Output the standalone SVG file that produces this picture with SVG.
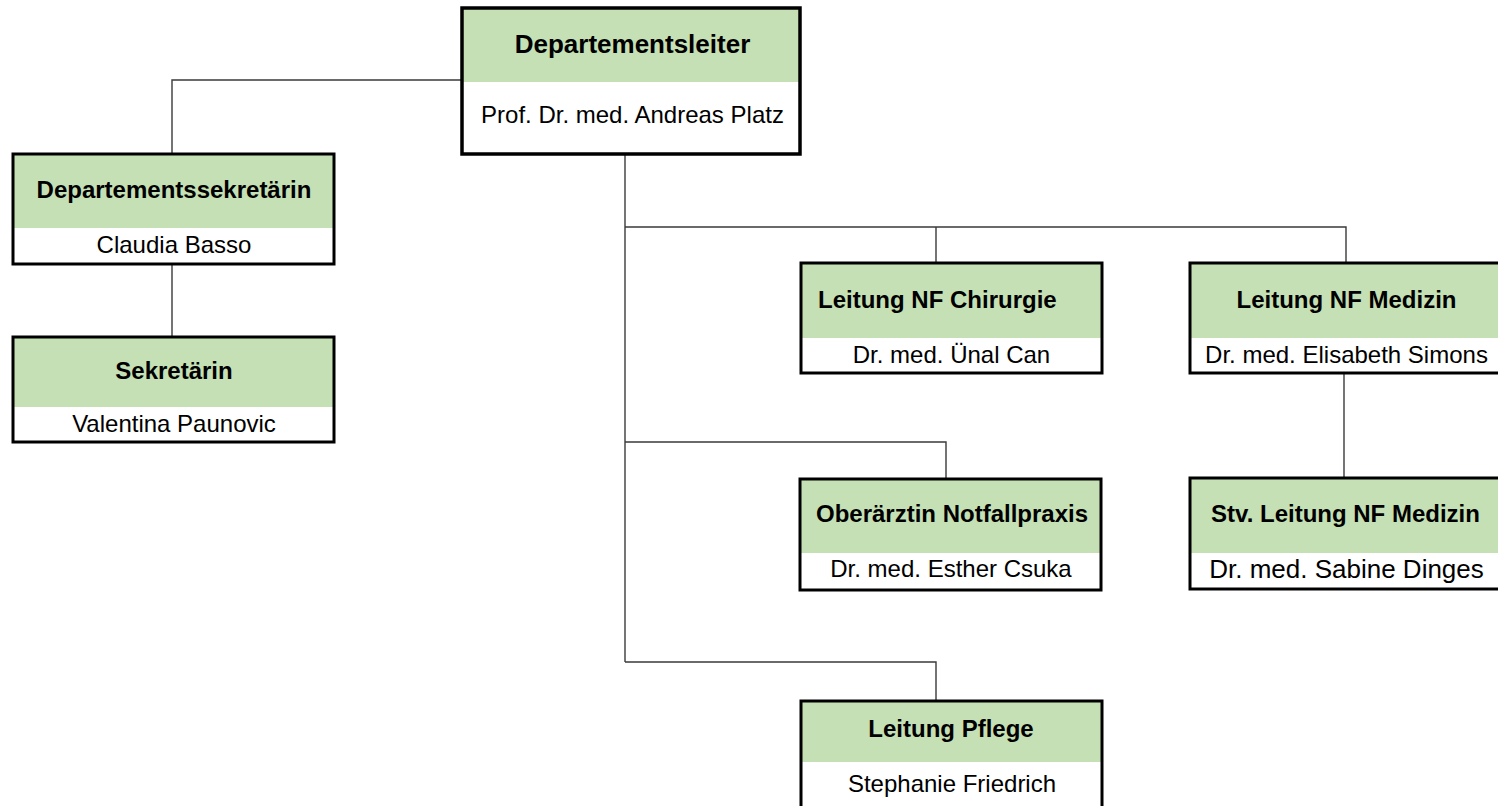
<svg xmlns="http://www.w3.org/2000/svg" width="1498" height="806" viewBox="0 0 1498 806">
<style>
.bg{fill:#ffffff}
.hd{fill:#c5e0b4}
.ol{fill:none;stroke:#000000;stroke-width:3}
.t{font-family:"Liberation Sans",Arial,sans-serif;font-size:24px;font-weight:bold;fill:#000;text-anchor:middle}
.n{font-family:"Liberation Sans",Arial,sans-serif;font-size:24px;fill:#000;text-anchor:middle}
.cn{fill:none;stroke:#3a3a3a;stroke-width:1.4}
</style>
<rect x="0" y="0" width="1498" height="806" fill="#ffffff"/>
<g id="connectors" class="cn">
<path d="M461,80 H172 V154"/>
<path d="M172,264 V337"/>
<path d="M625,154 V662"/>
<path d="M625,227 H1346 V263"/>
<path d="M936,227 V263"/>
<path d="M1344,373 V478"/>
<path d="M625,442 H946 V479"/>
<path d="M625,662 H936 V701"/>
</g>
<g id="node-departementsleiter">
<rect class="bg" x="462" y="8" width="338" height="146"/>
<rect class="hd" x="462" y="8" width="338" height="74"/>
<rect class="ol" x="462" y="8" width="338" height="146" style="stroke-width:3.5"/>
<text class="t" x="632.5" y="53" style="font-size:26px">Departementsleiter</text>
<text class="n" x="632.5" y="123">Prof. Dr. med. Andreas Platz</text>
</g>
<g id="node-departementssekretaerin">
<rect class="bg" x="13" y="154" width="321" height="110"/>
<rect class="hd" x="13" y="154" width="321" height="74"/>
<rect class="ol" x="13" y="154" width="321" height="110"/>
<text class="t" x="174" y="198">Departementssekretärin</text>
<text class="n" x="174" y="253">Claudia Basso</text>
</g>
<g id="node-sekretaerin">
<rect class="bg" x="13" y="337" width="321" height="105"/>
<rect class="hd" x="13" y="337" width="321" height="70"/>
<rect class="ol" x="13" y="337" width="321" height="105"/>
<text class="t" x="174" y="379">Sekretärin</text>
<text class="n" x="174" y="432">Valentina Paunovic</text>
</g>
<g id="node-leitung-nf-chirurgie">
<rect class="bg" x="801" y="263" width="301" height="110"/>
<rect class="hd" x="801" y="263" width="301" height="75"/>
<rect class="ol" x="801" y="263" width="301" height="110"/>
<text class="t" x="818" y="308" style="text-anchor:start">Leitung NF Chirurgie</text>
<text class="n" x="951.5" y="363">Dr. med. Ünal Can</text>
</g>
<g id="node-leitung-nf-medizin">
<rect class="bg" x="1190" y="263" width="312" height="110"/>
<rect class="hd" x="1190" y="263" width="312" height="75"/>
<rect class="ol" x="1190" y="263" width="312" height="110"/>
<text class="t" x="1346.5" y="308">Leitung NF Medizin</text>
<text class="n" x="1346.5" y="363">Dr. med. Elisabeth Simons</text>
</g>
<g id="node-oberaerztin-notfallpraxis">
<rect class="bg" x="800" y="479" width="301" height="111"/>
<rect class="hd" x="800" y="479" width="301" height="74"/>
<rect class="ol" x="800" y="479" width="301" height="111"/>
<text class="t" x="952" y="522">Oberärztin Notfallpraxis</text>
<text class="n" x="951" y="577">Dr. med. Esther Csuka</text>
</g>
<g id="node-stv-leitung-nf-medizin">
<rect class="bg" x="1190" y="478" width="312" height="111"/>
<rect class="hd" x="1190" y="478" width="312" height="75"/>
<rect class="ol" x="1190" y="478" width="312" height="111"/>
<text class="t" x="1345.5" y="522">Stv. Leitung NF Medizin</text>
<text class="n" x="1346.5" y="578" style="font-size:26px">Dr. med. Sabine Dinges</text>
</g>
<g id="node-leitung-pflege">
<rect class="bg" x="801" y="701" width="301" height="120"/>
<rect class="hd" x="801" y="701" width="301" height="61"/>
<rect class="ol" x="801" y="701" width="301" height="120"/>
<text class="t" x="951" y="737">Leitung Pflege</text>
<text class="n" x="952" y="792">Stephanie Friedrich</text>
</g>
</svg>
